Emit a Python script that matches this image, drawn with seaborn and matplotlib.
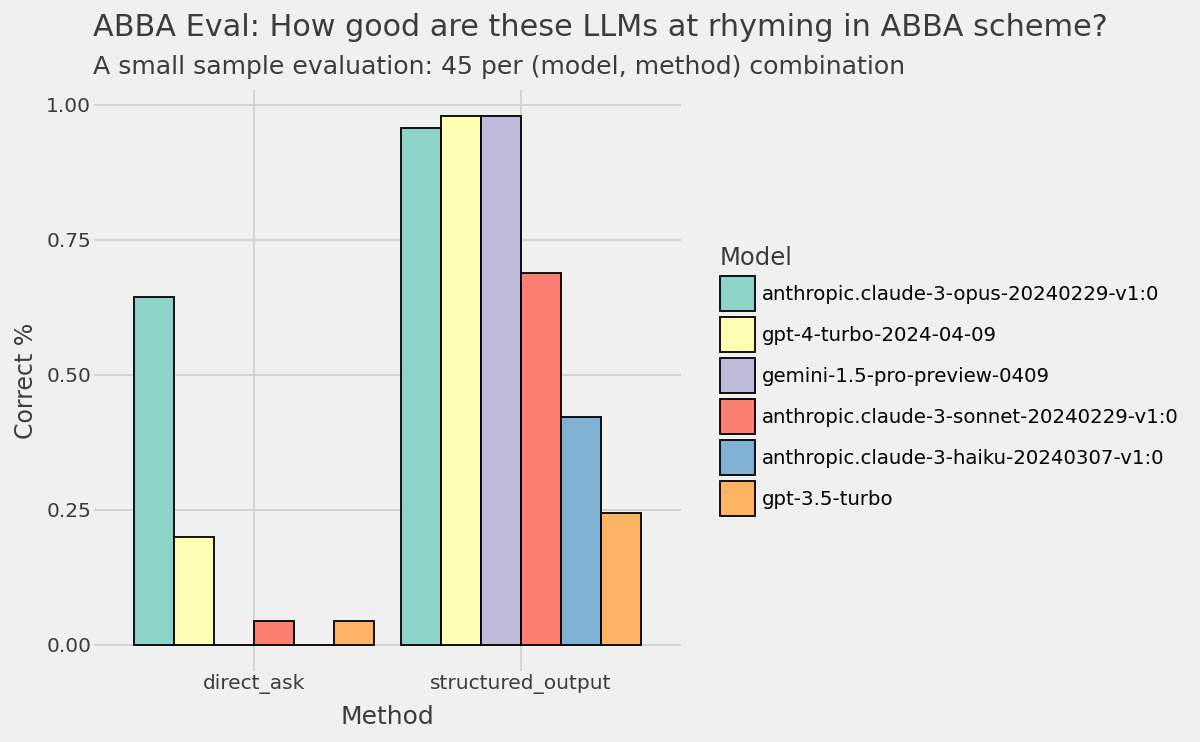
import matplotlib
matplotlib.use("Agg")
import matplotlib.pyplot as plt
import seaborn as sns
import pandas as pd
from matplotlib.patches import Patch

# -------------------------------
# Data
# -------------------------------
methods = ["direct_ask", "structured_output"]
models = [
    "anthropic.claude-3-opus-20240229-v1:0",
    "gpt-4-turbo-2024-04-09",
    "gemini-1.5-pro-preview-0409",
    "anthropic.claude-3-sonnet-20240229-v1:0",
    "anthropic.claude-3-haiku-20240307-v1:0",
    "gpt-3.5-turbo",
]
direct_ask = [0.644, 0.200, 0.0, 0.044, 0.0, 0.044]
structured_output = [0.956, 0.978, 0.978, 0.689, 0.422, 0.244]
colors = ["#8DD3C7", "#FFFFB3", "#BEBADA", "#FB8072", "#80B1D3", "#FDB462"]

df = pd.DataFrame({
    "Method": ["direct_ask"] * 6 + ["structured_output"] * 6,
    "Model": models * 2,
    "Correct": direct_ask + structured_output,
})

# -------------------------------
# Style
# -------------------------------
bg = "#F0F0F0"
grid = "#D2D2D2"
txt = "#3C3C3C"
sns.set_style("white")
plt.rcParams["font.family"] = ["DejaVu Sans"]

fig = plt.figure(figsize=(12, 7.42), dpi=100, facecolor=bg)
ax = fig.add_axes([0.0783, 0.0957, 0.4892, 0.783])
ax.set_facecolor(bg)

sns.barplot(data=df, x="Method", y="Correct", hue="Model", hue_order=models,
            order=methods, palette=colors, saturation=1, width=0.9, gap=0,
            edgecolor="black", linewidth=1.3, ax=ax, legend=False, zorder=3)

ax.set_xlim(-0.6, 1.6)
ax.set_ylim(-0.049, 1.027)
ax.set_yticks([0, 0.25, 0.5, 0.75, 1.0])
ax.set_yticklabels(["0.00", "0.25", "0.50", "0.75", "1.00"])
ax.grid(True, color=grid, linewidth=1.3, zorder=0)
ax.set_axisbelow(True)
for s in ax.spines.values():
    s.set_visible(False)
ax.tick_params(length=0, labelsize=14.5, colors=txt)
ax.tick_params(axis="x", pad=2)
ax.tick_params(axis="y", pad=2)
ax.set_xlabel("Method", fontsize=18, color=txt, labelpad=8)
ax.set_ylabel("Correct %", fontsize=17, color=txt, labelpad=6)

fig.text(0.0775, 0.952, "ABBA Eval: How good are these LLMs at rhyming in ABBA scheme?",
         fontsize=21.8, color=txt, va="baseline")
fig.text(0.0775, 0.9, "A small sample evaluation: 45 per (model, method) combination",
         fontsize=18.1, color=txt, va="baseline")

handles = [Patch(facecolor=c, edgecolor="black", linewidth=1.3) for c in colors]
leg = fig.legend(handles, models, title="Model", loc="upper left",
                 bbox_to_anchor=(0.6, 0.668), frameon=False, borderpad=0,
                 borderaxespad=0, fontsize=14.2, title_fontsize=17.5,
                 handlelength=1.78, handleheight=2.36, handletextpad=0.35,
                 labelspacing=0.3, alignment="left", labelcolor="black")
leg.get_title().set_color(txt)

fig.savefig("out.png", dpi=100, facecolor=bg)
